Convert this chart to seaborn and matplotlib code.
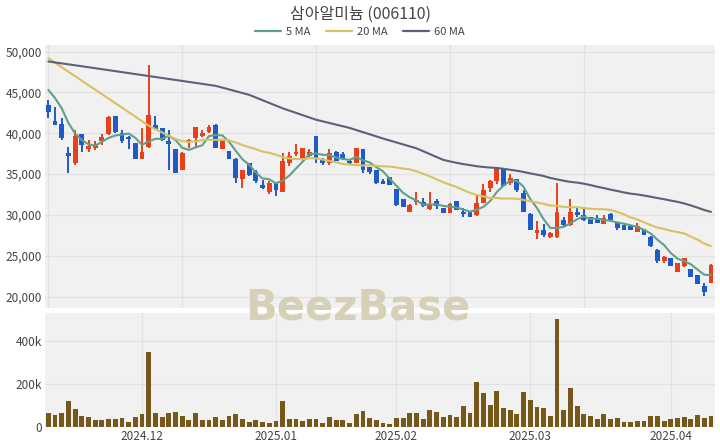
import matplotlib
matplotlib.use('Agg')
import matplotlib.pyplot as plt
from matplotlib.lines import Line2D
import numpy as np
import pandas as pd
import seaborn as sns

# trading days shown (KRX holidays removed)
holidays = ['2024-12-25', '2024-12-31', '2025-01-01', '2025-01-27',
            '2025-01-28', '2025-01-29', '2025-01-30']
dates = pd.bdate_range('2024-11-12', '2025-04-09')
dates = dates[~dates.isin(pd.to_datetime(holidays))]

opens = [43450, 41450, 41150, 37550, 36350, 39900, 38050, 38150, 39000, 39900,
         42050, 40000, 39500, 38800, 36850, 38300, 41000, 40600, 39000, 38100,
         35500, 39000, 39400, 39700, 40100, 41000, 38050, 37850, 36800, 34350,
         36350, 35200, 33600, 32850, 33900, 32850, 36350, 37450, 36950, 37150,
         39600, 36750, 36400, 37650, 37450, 36650, 36400, 38050, 35850, 35500,
         34100, 34600, 33200, 31950, 30350, 31550, 31550, 30750, 31700, 30800,
         30200, 31650, 30400, 30300, 30000, 31450, 33250, 34100, 35600, 33900,
         34350, 32650, 30150, 27750, 28150, 27300, 27350, 29400, 28800, 30400,
         30000, 29800, 29400, 28850, 30150, 29050, 28800, 28600, 27950, 28250,
         27350, 25700, 24400, 24700, 23050, 23700, 23350, 22650, 21250, 21700]
highs = [44100, 43250, 41850, 38350, 40400, 39900, 39200, 39000, 39900, 42050,
         42150, 40400, 39600, 38800, 40600, 48350, 42150, 40600, 40400, 38100,
         37700, 39300, 40750, 40400, 41000, 41150, 39200, 37850, 36950, 35500,
         36400, 35500, 34300, 34200, 33950, 37550, 37750, 38700, 38150, 38050,
         39600, 36950, 38050, 37850, 37650, 36750, 38150, 38050, 35900, 35500,
         34350, 34600, 33200, 31950, 31300, 32800, 32050, 32750, 31950, 30850,
         31500, 31700, 30900, 30300, 32450, 33800, 34300, 35900, 35700, 35050,
         34350, 33050, 30200, 29200, 28900, 27950, 33950, 29700, 31950, 30800,
         30700, 29800, 30000, 30000, 30200, 29050, 28800, 28600, 29050, 28250,
         27450, 25800, 25000, 24750, 24100, 24700, 23350, 22700, 21650, 24000]
lows = [41850, 40950, 39200, 35100, 36150, 37750, 37750, 37950, 38600, 39800,
        40000, 38850, 38050, 36800, 36850, 38150, 40400, 39000, 35450, 35100,
        35450, 38150, 38350, 39500, 40000, 38150, 38050, 36850, 33950, 33350,
        34800, 33900, 33150, 32600, 32350, 32850, 36000, 37150, 36650, 37050,
        36400, 36050, 36050, 36550, 36750, 36250, 36350, 35100, 35000, 33800,
        33750, 33600, 31050, 30950, 30350, 31150, 30950, 30550, 30750, 30200,
        30200, 30550, 29800, 29700, 29900, 31450, 32750, 33800, 33450, 33700,
        32850, 30300, 28100, 27050, 27250, 27150, 27200, 28650, 28600, 29800,
        29200, 28900, 29050, 28850, 29300, 28100, 28100, 28100, 27950, 27550,
        26050, 24150, 24150, 23750, 23050, 23650, 22350, 21550, 20100, 21700]
closes = [42650, 41050, 39400, 37150, 39600, 38600, 38450, 38600, 39500, 41950,
          40100, 39000, 39250, 36850, 37700, 42250, 40550, 39200, 38700, 35100,
          37550, 39200, 40750, 40000, 40750, 38150, 39000, 36850, 34500, 35500,
          34900, 34100, 33350, 33950, 33050, 36550, 37150, 37700, 38150, 37650,
          36950, 36350, 37550, 36550, 36850, 36350, 38150, 35500, 35300, 33900,
          33800, 33600, 31250, 30950, 31150, 31850, 31050, 31350, 31050, 30200,
          31350, 30550, 30150, 29700, 31450, 33050, 34100, 35700, 33550, 34500,
          33050, 30400, 28150, 28150, 27550, 27750, 30400, 28800, 30400, 30000,
          29400, 28900, 29050, 29600, 29400, 28400, 28150, 28100, 28600, 27550,
          26150, 24400, 24800, 23750, 24100, 24700, 22400, 21550, 20600, 23900]
volumes = [65600, 54600, 67000, 120000, 84000, 50000, 47000, 31000, 31000, 39000,
           36000, 42000, 22000, 47000, 59000, 351000, 64000, 45000, 67000, 72000,
           50000, 34000, 67000, 34000, 34000, 47000, 34000, 53000, 61000, 37000,
           23000, 34000, 23000, 19000, 30000, 122000, 39000, 39000, 30000, 39000,
           36000, 19000, 45000, 34000, 31000, 19000, 62000, 75000, 42000, 31000,
           20000, 16000, 42000, 42000, 66000, 66000, 39000, 81000, 69000, 45000,
           55000, 47000, 97000, 67000, 211000, 159000, 101000, 169000, 87000, 80000,
           59000, 165000, 125000, 95000, 87000, 53000, 503000, 81000, 183000, 100000,
           62000, 52000, 39000, 61000, 39000, 41000, 23000, 23000, 28000, 30000,
           50000, 52000, 30000, 37000, 44000, 47000, 37000, 55000, 44000, 53000]

# moving-average values before enough closes are in the window
ma5_head = [45300, 44300, 43050, 41250]
ma20_head_idx = [0, 3, 6, 9, 12, 15, 18]
ma20_head = [49180, 47530, 45880, 44230, 42580, 40920, 39680]
ma60_head_idx = [0, 5, 10, 15, 20, 25, 30, 35, 40, 45, 50, 55]
ma60_head = [48780, 48200, 47600, 47000, 46400, 45800, 44700, 43050, 41650,
             40650, 39350, 38150]

df = pd.DataFrame({'i': np.arange(len(closes)), 'open': opens, 'high': highs,
                   'low': lows, 'close': closes, 'volume': volumes}, index=dates)


def ma_frame(window, head_idx, head_vals):
    roll = df['close'].rolling(window).mean().to_numpy()
    xs = list(head_idx) + list(range(window - 1, len(df)))
    ys = list(head_vals) + list(roll[window - 1:])
    return pd.DataFrame({'i': xs, 'v': ys})


ma5 = ma_frame(5, range(4), ma5_head)
ma20 = ma_frame(20, ma20_head_idx, ma20_head)
ma60 = ma_frame(60, ma60_head_idx, ma60_head)

sns.set_theme(style='whitegrid')
plt.rcParams['font.family'] = ['Noto Sans CJK KR', 'DejaVu Sans']

RED = '#e8401a'
BLUE = '#1f5bc8'
BG = '#f1f1f1'
GRID = '#e2e2e2'
TXT = '#444444'
C5, C20, C60 = '#5fa08a', '#d8c160', '#5a6278'

fig = plt.figure(figsize=(7.2, 4.48), dpi=100)
ax = fig.add_axes([45 / 720, 1 - 308 / 448, 670 / 720, 263 / 448])
axv = fig.add_axes([45 / 720, 1 - 427 / 448, 670 / 720, 114 / 448])

for a in (ax, axv):
    a.set_facecolor(BG)
    for s in a.spines.values():
        s.set_visible(False)
    a.grid(True, color=GRID, linewidth=0.9)
    a.set_axisbelow(True)
    a.tick_params(length=0, labelsize=8.5, labelcolor=TXT, pad=2)

# candles
up = df['close'] >= df['open']
cols = np.where(up, RED, BLUE)
ax.vlines(df['i'], df['low'], df['high'], colors=cols, linewidth=1.4, zorder=2)
body_lo = np.minimum(df['open'], df['close'])
body_h = np.maximum(np.abs(df['close'] - df['open']), 120)
ax.bar(df['i'], body_h, bottom=body_lo, width=0.72, color=cols, linewidth=0, zorder=3)

sns.lineplot(data=ma5, x='i', y='v', ax=ax, color=C5, linewidth=1.5, zorder=4)
sns.lineplot(data=ma20, x='i', y='v', ax=ax, color=C20, linewidth=1.5, zorder=4)
sns.lineplot(data=ma60, x='i', y='v', ax=ax, color=C60, linewidth=1.5, zorder=4)

ax.set_xlim(-0.5, 99.6)
ax.set_ylim(18600, 50800)
ax.set_xticks([0, 20, 40, 60, 80])
ax.set_xticklabels([])
ax.set_yticks(range(20000, 50001, 5000))
ax.set_yticklabels([f'{v:,}' for v in range(20000, 50001, 5000)])
ax.set_xlabel('')
ax.set_ylabel('')

# volume
axv.bar(df['i'], df['volume'], width=0.72, color='#76581a', linewidth=0, zorder=3)
axv.set_xlim(-0.5, 99.6)
axv.set_ylim(0, 533000)
axv.set_yticks([0, 200000, 400000])
axv.set_yticklabels(['0', '200k', '400k'])
month_first = df.groupby(df.index.to_period('M'))['i'].min()
month_first = month_first[month_first > 0]
axv.set_xticks(month_first.values)
axv.set_xticklabels([p.strftime('%Y.%m') for p in month_first.index])

fig.text(0.5, 1 - 14 / 448, '삼아알미늄 (006110)', ha='center', va='center',
         fontsize=11.5, color=TXT)
handles = [Line2D([], [], color=c, linewidth=1.6) for c in (C5, C20, C60)]
fig.legend(handles, ['5 MA', '20 MA', '60 MA'], loc='center',
           bbox_to_anchor=(0.5, 1 - 32 / 448), ncol=3, frameon=False,
           fontsize=8, handlelength=2.3, columnspacing=1.4, handletextpad=0.5,
           labelcolor=TXT)
fig.text(0.497, 1 - 307 / 448, 'BeezBase', ha='center', va='center',
         fontsize=30, fontweight='bold', color='#d6d0b6', family='DejaVu Sans')

fig.savefig('out.png', dpi=100)
